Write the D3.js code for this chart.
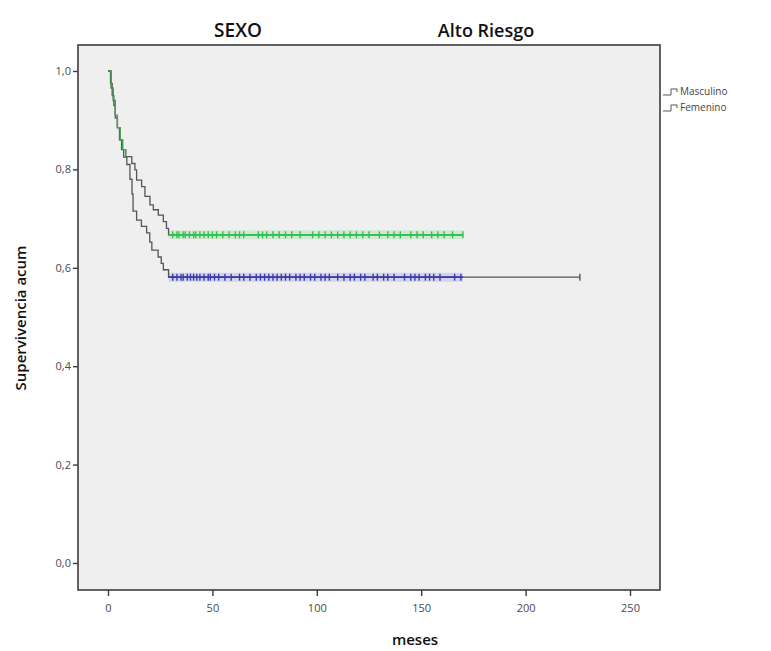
<!DOCTYPE html>
<html>
<head>
<meta charset="utf-8">
<script src="https://cdn.jsdelivr.net/npm/d3@7"></script>
<style>
  body { margin: 0; background: #fff; }
  text { font-family: "Open Sans", "DejaVu Sans", sans-serif; }
</style>
</head>
<body>
<div id="chart"></div>
<script>
// Kaplan-Meier steps (time in months, cumulative survival)
const mascTimes = [0, 1.2, 2, 2.8, 3.5, 4.5, 5.5, 6.5, 7.5, 9, 10.5, 11.5, 12, 13.7, 16, 18.5, 20, 21, 24, 25.5, 26.5, 29];
const mascSurv  = [1.0, 0.975, 0.95, 0.93, 0.905, 0.885, 0.86, 0.84, 0.825, 0.81, 0.78, 0.75, 0.715, 0.697, 0.684, 0.671, 0.652, 0.636, 0.622, 0.609, 0.596, 0.581];
const mascCensor = [31, 33, 35, 36, 38, 39.5, 41, 42.5, 44, 46, 48, 49, 51, 53, 56, 59, 63, 65, 68, 71, 73, 75, 77, 79, 81, 83, 85, 87, 90, 92, 94, 97, 99, 102, 104, 106, 110, 113, 116, 118, 121, 123, 127, 129, 132, 134, 137, 142, 145, 147, 149, 152, 154, 156, 159, 166, 169, 226];

const femTimes = [0, 1.5, 2.5, 3.5, 4.5, 5.8, 7, 8.5, 11.4, 12.9, 13.7, 16.1, 17.7, 20.1, 21.7, 24.1, 26.5, 28, 29];
const femSurv  = [1.0, 0.965, 0.94, 0.91, 0.885, 0.86, 0.84, 0.826, 0.812, 0.799, 0.778, 0.765, 0.745, 0.728, 0.718, 0.707, 0.694, 0.68, 0.667];
const femCensor = [31, 33, 34, 36, 37, 39, 41, 42, 44, 46, 48, 50, 52, 55, 58, 61, 63, 65, 72, 74, 76, 79, 82, 85, 88, 92, 98, 101, 104, 107, 110, 113, 116, 119, 122, 125, 130, 134, 137, 140, 145, 148, 151, 155, 158, 161, 165, 170];

const groups = ["Masculino", "Femenino"];
const groupColors = ["#3a3ab8", "#2fc24a"];
const xTicks = [0, 50, 100, 150, 200, 250];
const yTicks = [0, 0.2, 0.4, 0.6, 0.8, 1.0];

const width = 771, height = 651;
const frame = { left: 78, right: 660, top: 45, bottom: 590 };

const svg = d3.select("#chart").append("svg")
    .attr("width", width)
    .attr("height", height);

svg.append("rect").attr("width", width).attr("height", height).attr("fill", "#fff");

const xScale = d3.scaleLinear().domain([0, 250]).range([108, 630]);
const yScale = d3.scaleLinear().domain([0, 1]).range([563, 71]);

// plot background + frame
svg.append("rect")
    .attr("x", frame.left).attr("y", frame.top)
    .attr("width", frame.right - frame.left)
    .attr("height", frame.bottom - frame.top)
    .attr("fill", "#efefef")
    .attr("stroke", "#3c3c3c")
    .attr("stroke-width", 1.6);

// axes
const fmt = d => d3.format(".1f")(d).replace(".", ",");
const yAxis = d3.axisLeft(yScale).tickValues(yTicks).tickFormat(fmt).tickSize(5).tickPadding(2);
const xAxis = d3.axisBottom(xScale).tickValues(xTicks).tickFormat(d3.format("d")).tickSize(6).tickPadding(8);

const gy = svg.append("g").attr("transform", `translate(${frame.left},0)`).call(yAxis);
const gx = svg.append("g").attr("transform", `translate(0,${frame.bottom})`).call(xAxis);
[gx, gy].forEach(g => {
    g.select(".domain").remove();
    g.selectAll("line").attr("stroke", "#3c3c3c").attr("stroke-width", 1.4);
    g.selectAll("text").attr("fill", "#4a4a4a").attr("font-size", 11)
        .attr("font-family", "'Open Sans', 'DejaVu Sans', sans-serif");
});

// step line helper
const stepLine = d3.line()
    .x(d => xScale(d[0]))
    .y(d => yScale(d[1]))
    .curve(d3.curveStepAfter);

function kmPoints(times, surv, endT) {
    const pts = times.map((t, i) => [t, surv[i]]);
    pts.push([endT, surv[surv.length - 1]]);
    return pts;
}

const series = [
    { times: mascTimes, surv: mascSurv, censor: mascCensor, colorEnd: 170 },
    { times: femTimes, surv: femSurv, censor: femCensor, colorEnd: 170 }
];

series.forEach((s, gi) => {
    const endT = d3.max(s.censor);
    const flatS = s.surv[s.surv.length - 1];
    const startFlat = s.times[s.times.length - 1];
    const col = groupColors[gi];

    // soft halo on the censored flat part
    svg.append("line")
        .attr("x1", xScale(startFlat)).attr("x2", xScale(s.colorEnd))
        .attr("y1", yScale(flatS)).attr("y2", yScale(flatS))
        .attr("stroke", col).attr("stroke-opacity", 0.15).attr("stroke-width", 9);

    svg.append("path")
        .datum(kmPoints(s.times, s.surv, endT))
        .attr("fill", "none")
        .attr("stroke", "#555")
        .attr("stroke-width", 1.3)
        .attr("d", stepLine);

    // coloured overlay on flat part
    svg.append("line")
        .attr("x1", xScale(startFlat)).attr("x2", xScale(s.colorEnd))
        .attr("y1", yScale(flatS)).attr("y2", yScale(flatS))
        .attr("stroke", col).attr("stroke-width", 1.8);

    // censor marks
    svg.append("g").selectAll("line")
        .data(s.censor)
        .enter()
        .append("line")
        .attr("x1", d => xScale(d)).attr("x2", d => xScale(d))
        .attr("y1", yScale(flatS) - 3.5).attr("y2", yScale(flatS) + 3.5)
        .attr("stroke", d => d > s.colorEnd ? "#555" : col)
        .attr("stroke-width", 1.4);
});

// green tint on shared initial descent
svg.append("path")
    .datum(kmPoints(femTimes.slice(0, 8), femSurv.slice(0, 8), 8))
    .attr("fill", "none")
    .attr("stroke", groupColors[1])
    .attr("stroke-opacity", 0.8)
    .attr("stroke-width", 1.2)
    .attr("d", stepLine);

// titles
svg.append("text").attr("x", 238).attr("y", 37).attr("text-anchor", "middle")
    .attr("font-size", 19).attr("font-weight", 600).attr("fill", "#111").text("SEXO");
svg.append("text").attr("x", 486).attr("y", 37).attr("text-anchor", "middle")
    .attr("font-size", 18).attr("font-weight", 600).attr("fill", "#111").text("Alto Riesgo");

svg.append("text").attr("x", 415).attr("y", 645).attr("text-anchor", "middle")
    .attr("font-size", 15).attr("font-weight", 600).attr("fill", "#111").text("meses");
svg.append("text")
    .attr("transform", "rotate(-90)")
    .attr("x", -318).attr("y", 26)
    .attr("text-anchor", "middle")
    .attr("font-size", 15).attr("font-weight", 600).attr("fill", "#111")
    .text("Supervivencia acum");

// legend
const legend = svg.append("g").selectAll("g")
    .data(groups)
    .enter()
    .append("g")
    .attr("transform", (d, i) => `translate(663,${95 + i * 16})`);
legend.append("path")
    .attr("d", "M0,0 H8 V-6 H14 V-3")
    .attr("fill", "none").attr("stroke", "#555").attr("stroke-width", 1);
legend.append("text")
    .attr("x", 17).attr("y", 0)
    .attr("font-size", 10).attr("fill", "#444")
    .text(d => d);
</script>
</body>
</html>
